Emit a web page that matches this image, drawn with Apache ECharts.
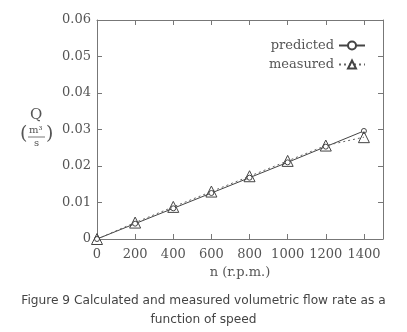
<!DOCTYPE html>
<html>
<head>
<meta charset="utf-8">
<script src="https://cdn.jsdelivr.net/npm/echarts@6/dist/echarts.min.js"></script>
<style>
  html, body { margin: 0; padding: 0; background: #fff; }
  #chart { width: 407px; height: 332px; }
</style>
</head>
<body>
<div id="chart"></div>
<script>
// speed (r.p.m.)
const speeds = [0, 200, 400, 600, 800, 1000, 1200, 1400]
// flow rate Q (m3/s)
const predicted = [0, 0.0042, 0.0084, 0.0126, 0.0168, 0.021, 0.0253, 0.0296]
const measured = [0, 0.0045, 0.0088, 0.013, 0.0172, 0.0214, 0.0256, 0.0279]

const serif = '"DejaVu Serif", "Liberation Serif", serif'
const ink = '#555'
const axisGray = '#777'

const myChart = echarts.init(document.getElementById('chart'))

// axes drawn on the top / right side only carry inside ticks
function mirrorAxis(extra) {
  return Object.assign({
    type: 'value',
    splitLine: { show: false },
    axisLine: { show: true, onZero: false, lineStyle: { color: axisGray } },
    axisTick: { show: true, inside: true, length: 5, lineStyle: { color: axisGray } },
    axisLabel: { show: false }
  }, extra)
}

myChart.setOption({
  animation: false,
  textStyle: { fontFamily: serif, color: ink },
  title: {
    text: 'Figure 9 Calculated and measured volumetric flow rate as a\nfunction of speed',
    left: 'center',
    top: 286,
    textStyle: { fontFamily: '"DejaVu Sans", sans-serif', fontSize: 12.2, fontWeight: 'normal', color: '#444', lineHeight: 19 }
  },
  legend: {
    right: 36,
    top: 34,
    orient: 'vertical',
    align: 'right',
    itemWidth: 26,
    itemHeight: 10,
    itemGap: 6,
    textStyle: { fontFamily: serif, fontSize: 13, color: ink },
    data: ['predicted', 'measured']
  },
  grid: { left: 97, right: 24, top: 20, bottom: 93 },
  // y axis title: Q over (m³/s)
  graphic: [
    { type: 'text', left: 30, top: 108, style: { text: 'Q', font: '15px ' + serif, fill: ink } },
    { type: 'text', left: 20, top: 125, style: { text: '(', font: '19px ' + serif, fill: ink } },
    { type: 'text', left: 29, top: 125, style: { text: 'm³', font: '10px ' + serif, fill: ink } },
    { type: 'line', shape: { x1: 28, y1: 137, x2: 45, y2: 137 }, style: { stroke: ink, lineWidth: 0.8 } },
    { type: 'text', left: 34, top: 138, style: { text: 's', font: '10px ' + serif, fill: ink } },
    { type: 'text', left: 46, top: 125, style: { text: ')', font: '19px ' + serif, fill: ink } }
  ],
  xAxis: [
    {
      type: 'value',
      min: 0,
      max: 1500,
      interval: 200,
      name: 'n (r.p.m.)',
      nameLocation: 'middle',
      nameGap: 24,
      nameTextStyle: { fontFamily: serif, fontSize: 13, color: ink },
      splitLine: { show: false },
      axisLine: { onZero: false, lineStyle: { color: axisGray } },
      axisTick: { inside: true, length: 5, lineStyle: { color: axisGray } },
      axisLabel: {
        fontFamily: serif, fontSize: 13, color: ink, margin: 9,
        formatter: v => (v % 200 === 0 ? String(v) : '')
      }
    },
    mirrorAxis({ position: 'top', min: 0, max: 1500, interval: 200 })
  ],
  yAxis: [
    {
      type: 'value',
      min: 0,
      max: 0.06,
      interval: 0.01,
      splitLine: { show: false },
      axisLine: { show: true, onZero: false, lineStyle: { color: axisGray } },
      axisTick: { inside: true, length: 5, lineStyle: { color: axisGray } },
      axisLabel: {
        fontFamily: serif, fontSize: 13, color: ink, margin: 6,
        formatter: v => (v === 0 ? '0' : v.toFixed(2))
      }
    },
    mirrorAxis({ position: 'right', min: 0, max: 0.06, interval: 0.01 })
  ],
  series: [
    {
      name: 'predicted',
      type: 'line',
      data: speeds.map((n, i) => [n, predicted[i]]),
      symbol: 'circle',
      symbolSize: 5,
      lineStyle: { color: '#444', width: 1 },
      itemStyle: { color: '#fff', borderColor: '#444', borderWidth: 1 }
    },
    {
      name: 'measured',
      type: 'line',
      data: speeds.map((n, i) => [n, measured[i]]),
      symbol: 'triangle',
      symbolSize: 11,
      lineStyle: { color: '#666', width: 1, type: [2, 3] },
      itemStyle: { color: 'rgba(255,255,255,0)', borderColor: '#444', borderWidth: 1 }
    }
  ]
})

window.onresize = function () {
  myChart.resize()
}
</script>
</body>
</html>
